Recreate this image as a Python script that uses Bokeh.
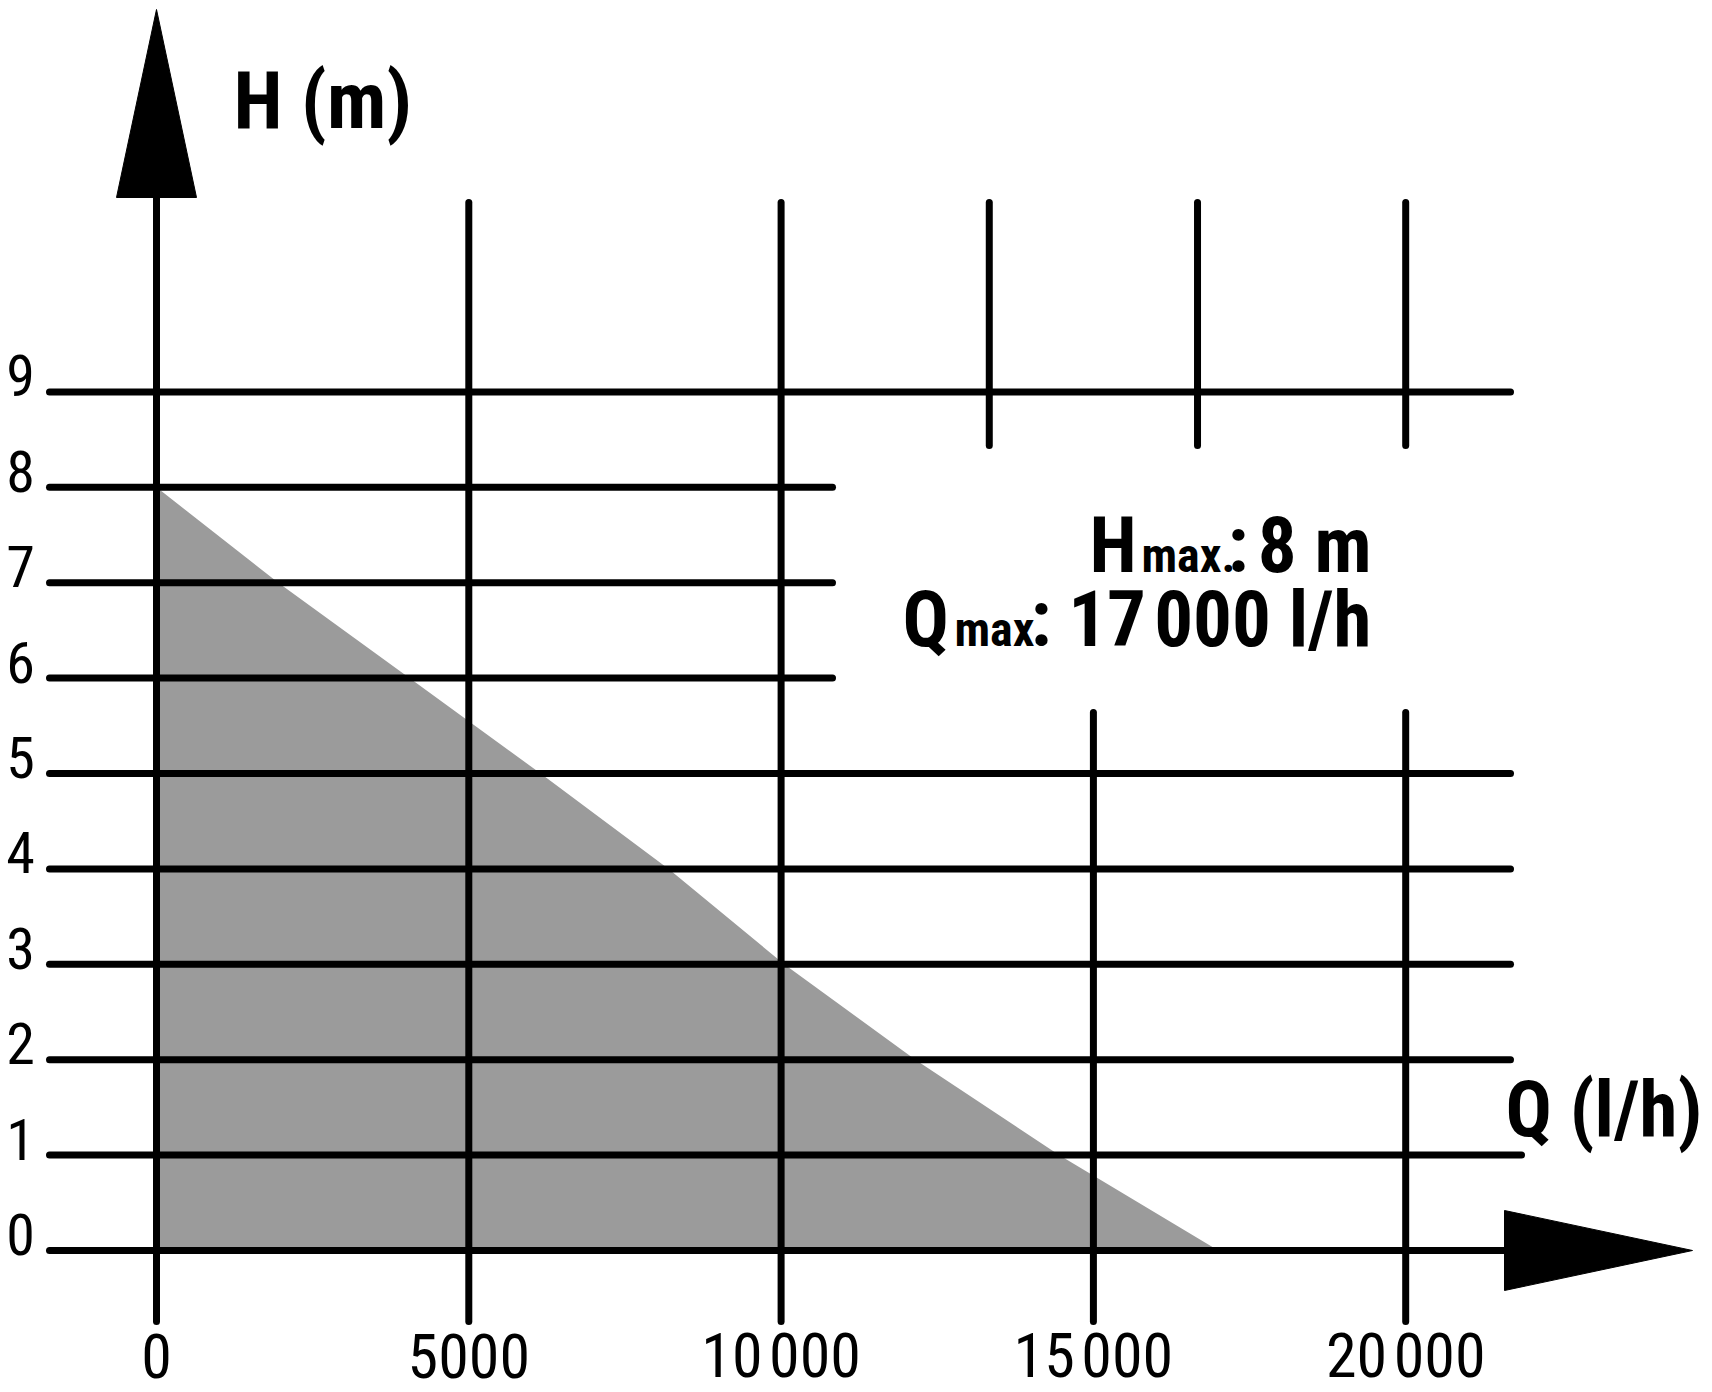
from bokeh.plotting import figure
from bokeh.models import Range1d
from bokeh.core.properties import value
from bokeh.embed import file_html
from bokeh.resources import INLINE

# ---------------- data ----------------
q_ticks = [0, 5000, 10000, 15000, 20000]
q_tick_labels = ["0", "5000", "10\u200a000", "15\u200a000", "20\u200a000"]
h_ticks = [0, 1, 2, 3, 4, 5, 6, 7, 8, 9]
h_tick_labels = ["0", "1", "2", "3", "4", "5", "6", "7", "8", "9"]
curve_q = [0, 1950, 4050, 6150, 8200, 10050, 12150, 14450, 17000]
curve_h = [8, 7, 6, 5, 4, 3, 2, 1, 0]
h_max = 8
q_max = 17000
full_rows = [0, 1, 2, 3, 4, 5, 9]
short_rows = [6, 7, 8]
long_cols = [0, 5000, 10000]
lower_marks = [15000, 20000]
upper_marks = [13333, 16667, 20000]

# ---------------- layout (reference pixel mapping) ----------------
W, H = 1712, 1392
X0, PX_PER_Q = 156.0, 312.3 / 5000.0
Y0, PX_PER_H = 1250.0, 95.4


def qx(px):
    return (px - X0) / PX_PER_Q


def hy(py):
    return (Y0 - py) / PX_PER_H


def mid(baseline_px, size):
    # vertical centre of the text box for a given baseline
    return hy(baseline_px - 0.35 * size)


FONT = "Roboto Condensed"
BLACK = "#000000"
GRAY = "#9b9b9b"
LW = 7

p = figure(width=W, height=H,
           x_range=Range1d(qx(0), qx(W)), y_range=Range1d(hy(H), hy(0)),
           output_backend="svg", toolbar_location=None,
           x_axis_location=None, y_axis_location=None,
           min_border=0, min_border_left=0, min_border_right=0,
           min_border_top=0, min_border_bottom=0,
           outline_line_color=None,
           background_fill_color="white", border_fill_color="white")
p.grid.visible = False

# operating area under the pump curve
p.patch(curve_q + [0], curve_h + [0], fill_color=GRAY, line_color=None)

# grid lines
grid_left = qx(49)
right_end = {0: qx(1530), 1: qx(1521)}
xs, ys = [], []
for r in full_rows:
    xs.append([grid_left, right_end.get(r, qx(1510))])
    ys.append([r, r])
for r in short_rows:
    xs.append([grid_left, qx(832)])
    ys.append([r, r])
col_bottom = hy(1321)
col_top = hy(202)
for c in long_cols:
    xs.append([c, c])
    ys.append([col_bottom, col_top if c != 0 else hy(190)])
for c in lower_marks:
    xs.append([c, c])
    ys.append([col_bottom, hy(712)])
for c in upper_marks:
    xs.append([c, c])
    ys.append([hy(445), col_top])
p.multi_line(xs, ys, line_color=BLACK, line_width=LW, line_cap="round")

# axis arrows
half_w = 40 / PX_PER_Q
p.patch([0 - half_w, 0, 0 + half_w], [hy(197), hy(9), hy(197)],
        fill_color=BLACK, line_color=BLACK, line_width=1)
half_h = 40 / PX_PER_H
p.patch([qx(1504), qx(1692), qx(1504)], [half_h, 0, -half_h],
        fill_color=BLACK, line_color=BLACK, line_width=1)

# tick labels
p.text(x=[qx(20)] * len(h_ticks), y=[h + 16 / PX_PER_H for h in h_ticks],
       text=h_tick_labels, text_align="center", text_baseline="middle",
       text_font=value(FONT), text_font_size="58px", text_color=BLACK)
p.text(x=q_ticks, y=[hy(1355)] * len(q_ticks), text=q_tick_labels,
       text_align="center", text_baseline="middle",
       text_font=value(FONT), text_font_size="62px", text_color=BLACK)

# axis titles
p.text(x=[qx(233)], y=[mid(128, 80)], text=["H (m)"], text_align="left",
       text_baseline="middle", text_font=value(FONT),
       text_font_style="bold", text_font_size="80px", text_color=BLACK)
p.text(x=[qx(1505)], y=[mid(1136, 77)], text=["Q (l/h)"], text_align="left",
       text_baseline="middle", text_font=value(FONT),
       text_font_style="bold", text_font_size="77px", text_color=BLACK)

# max annotations
big, small = 77, 48
for (txt, X, Y, size, align) in [
    ("H", 1089, 572, big, "left"),
    ("max.", 1141, 572, small, "left"),
    (":", 1227, 572, big, "left"),
    ("%d m" % h_max, 1371, 572, big, "right"),
    ("Q", 902, 646, big, "left"),
    ("max.", 954, 646, small, "left"),
    (":", 1030, 646, big, "left"),
    ("%d\u200a%03d l/h" % (q_max // 1000, q_max % 1000), 1371, 646, big, "right"),
]:
    p.text(x=[qx(X)], y=[mid(Y, size)], text=[txt], text_align=align,
           text_baseline="middle", text_font=value(FONT),
           text_font_style="bold", text_font_size="%dpx" % size, text_color=BLACK)

open("out.html", "w").write(file_html(p, INLINE))
